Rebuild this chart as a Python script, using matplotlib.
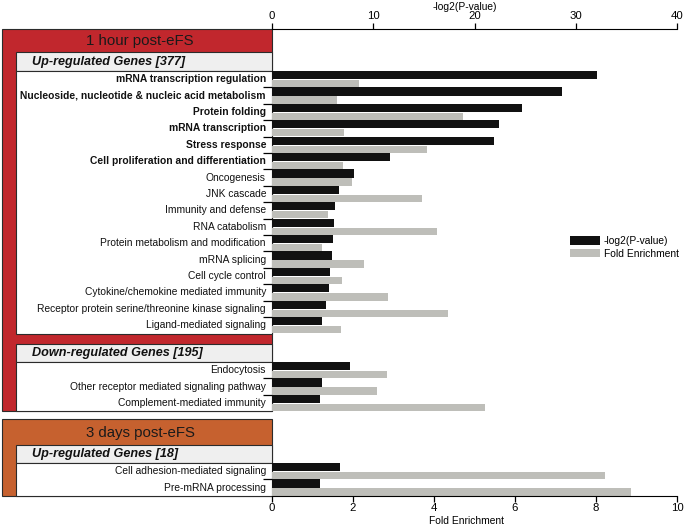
import matplotlib
matplotlib.use("Agg")
import matplotlib.pyplot as plt
from matplotlib.patches import Rectangle, Patch

plt.rcParams["font.family"] = ["Liberation Sans", "DejaVu Sans"]

# data
up_1h_labels = [
    "mRNA transcription regulation",
    "Nucleoside, nucleotide & nucleic acid metabolism",
    "Protein folding",
    "mRNA transcription",
    "Stress response",
    "Cell proliferation and differentiation",
    "Oncogenesis",
    "JNK cascade",
    "Immunity and defense",
    "RNA catabolism",
    "Protein metabolism and modification",
    "mRNA splicing",
    "Cell cycle control",
    "Cytokine/chemokine mediated immunity",
    "Receptor protein serine/threonine kinase signaling",
    "Ligand-mediated signaling",
]
up_1h_pval = [32.1, 28.6, 24.7, 22.4, 21.9, 11.7, 8.07, 6.6, 6.23, 6.13, 6.03, 5.93, 5.73, 5.63, 5.31, 4.98]
up_1h_fold = [2.15, 1.6, 4.71, 1.77, 3.82, 1.75, 1.97, 3.71, 1.38, 4.08, 1.23, 2.26, 1.74, 2.87, 4.35, 1.70]
up_1h_bold = 6

down_1h_labels = [
    "Endocytosis",
    "Other receptor mediated signaling pathway",
    "Complement-mediated immunity",
]
down_1h_pval = [7.68, 4.94, 4.74]
down_1h_fold = [2.85, 2.59, 5.26]

up_3d_labels = [
    "Cell adhesion-mediated signaling",
    "Pre-mRNA processing",
]
up_3d_pval = [6.69, 4.74]
up_3d_fold = [8.22, 8.86]

W, H = 686, 527
RED = "#c1272d"
ORANGE = "#c6612f"
SUBGRAY = "#efefef"
EDGE = "#2b2b2b"
BLACK = "#111111"
GRAY = "#bebeb9"
FS = 7.4
TICK_FS = 8.2

fig = plt.figure(figsize=(W / 100, H / 100), dpi=100)

# background axes in pixel units for the label boxes
bg = fig.add_axes([0, 0, 1, 1])
bg.set_xlim(0, W)
bg.set_ylim(H, 0)
bg.axis("off")

ax_left, ax_right, ax_top, ax_bot = 272, 677, 29, 496
ax = fig.add_axes([ax_left / W, (H - ax_bot) / H, (ax_right - ax_left) / W, (ax_bot - ax_top) / H])
ax.patch.set_alpha(0)
ax.set_ylim(ax_bot, ax_top)
ax.set_xlim(0, 10)
ax2 = ax.twiny()
ax2.set_xlim(0, 40)

row_h = 16.4
groups = [
    (71, up_1h_labels, up_1h_pval, up_1h_fold, up_1h_bold),
    (362, down_1h_labels, down_1h_pval, down_1h_fold, 0),
    (463, up_3d_labels, up_3d_pval, up_3d_fold, 0),
]

boundaries = []
for start, labels, pvals, folds, nbold in groups:
    for i, (lab, p, f) in enumerate(zip(labels, pvals, folds)):
        top = start + i * row_h
        ax2.barh(top + 4.1, p, height=8.2, color=BLACK)
        ax.barh(top + 12.6, f, height=7.4, color=GRAY)
        bg.text(266, top + row_h / 2, lab, ha="right", va="center", fontsize=FS,
                fontweight="bold" if i < nbold else "normal", color="#111111")
        if i > 0:
            boundaries.append(top)

# boxes
def box(x0, y0, x1, y1, color):
    bg.add_patch(Rectangle((x0, y0), x1 - x0, y1 - y0, facecolor=color, edgecolor=EDGE, lw=0.8))

box(2, 29, 272, 411, RED)
box(16, 52, 272, 71, SUBGRAY)
box(16, 71, 272, 333.5, "white")
box(16, 344, 272, 362, SUBGRAY)
box(16, 362, 272, 411, "white")
box(2, 419, 272, 496, ORANGE)
box(16, 445, 272, 463, SUBGRAY)
box(16, 463, 272, 496, "white")

bg.text(140, 40.5, "1 hour post-eFS", ha="center", va="center", fontsize=10.8, color="#1a1a1a")
bg.text(141, 432.5, "3 days post-eFS", ha="center", va="center", fontsize=10.8, color="#1a1a1a")
for y, s in [(61.5, "Up-regulated Genes [377]"), (353, "Down-regulated Genes [195]"),
             (454, "Up-regulated Genes [18]")]:
    bg.text(32, y, s, ha="left", va="center", fontsize=9.1, fontweight="bold",
            fontstyle="italic", color="#111111")

# axes styling
for a in (ax, ax2):
    a.spines["right"].set_visible(False)
    a.spines["left"].set_visible(False)
ax.spines["top"].set_visible(False)
ax2.spines["bottom"].set_visible(False)
ax.set_xticks([0, 2, 4, 6, 8, 10])
ax2.set_xticks([0, 10, 20, 30, 40])
ax.tick_params(axis="x", direction="out", length=4, width=0.9, labelsize=TICK_FS, pad=1)
ax2.tick_params(axis="x", direction="out", length=4, width=0.9, labelsize=TICK_FS, pad=1.5)
ax.set_yticks(boundaries)
ax.tick_params(axis="y", direction="out", length=6.5, width=0.9, labelleft=False)
ax2.tick_params(axis="y", left=False, right=False)

ax.set_xlabel("Fold Enrichment", fontsize=FS)
ax.xaxis.label.set_va("center")
ax.xaxis.set_label_coords(0.48, -(521.5 - ax_bot) / (ax_bot - ax_top))
ax2.set_xlabel("-log2(P-value)", fontsize=FS)
ax2.xaxis.label.set_va("center")
ax2.xaxis.set_label_coords(0.475, 1 + (ax_top - 7) / (ax_bot - ax_top))

handles = [Patch(facecolor=BLACK, label="-log2(P-value)"),
           Patch(facecolor=GRAY, label="Fold Enrichment")]
ax.legend(handles=handles, loc="upper left", bbox_to_anchor=(570 / W, 1 - 236 / H),
          bbox_transform=fig.transFigure, frameon=False, fontsize=FS,
          handlelength=2.9, handleheight=0.95, handletextpad=0.4,
          labelspacing=0.25, borderpad=0, borderaxespad=0)

fig.savefig("out.png", dpi=100)
